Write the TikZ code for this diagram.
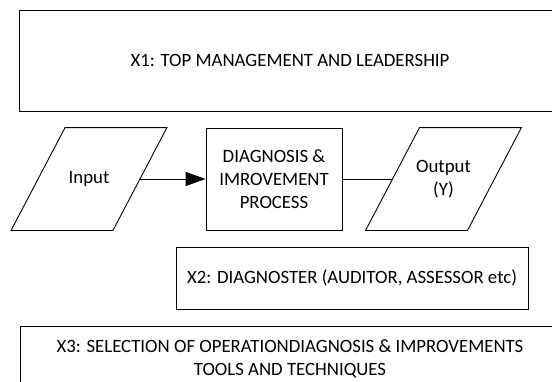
\documentclass[tikz,border=0pt]{standalone}
\usepackage{fontspec}
\setmainfont{Carlito}
\usetikzlibrary{arrows.meta}

\begin{document}
\begin{tikzpicture}[x=1pt, y=-1pt, line width=0.9pt,
  font=\fontsize{18.8}{23}\selectfont,
  factor/.style={draw, rectangle, align=center, inner sep=0pt},
  iobox/.style={rectangle, align=center, inner sep=0pt, minimum width=101pt, minimum height=102pt},
  flow/.style={-{Triangle[length=20pt,width=14pt]}}]

\useasboundingbox (0,0) rectangle (552,381);

\node[factor, minimum width=542pt, minimum height=101pt] (lead) at (290,60.5) {X1: TOP MANAGEMENT AND LEADERSHIP};

\node[iobox] (input) at (89,179) {Input};
\node[factor, minimum width=136pt, minimum height=102pt] (proc) at (274,179) {DIAGNOSIS \&\\IMROVEMENT\\PROCESS};
\node[iobox] (output) at (443.5,179) {Output\\(Y)};

% parallelograms round the input and output
\foreach \io in {input,output}
  \draw ([xshift=-27pt]\io.south west) -- ([xshift=27pt]\io.north west)
     -- ([xshift=27pt]\io.north east) -- ([xshift=-27pt]\io.south east) -- cycle;

\draw[flow] (input) -- (proc);
\draw (proc) -- (output);

\node[factor, minimum width=352pt, minimum height=62pt] (diag) at (352,278) {X2: DIAGNOSTER (AUDITOR, ASSESSOR etc)};

\node[factor, minimum width=540pt, minimum height=66pt] (tools) at (290,359) {X3: SELECTION OF OPERATIONDIAGNOSIS \& IMPROVEMENTS\\TOOLS AND TECHNIQUES};
\end{tikzpicture}
\end{document}
